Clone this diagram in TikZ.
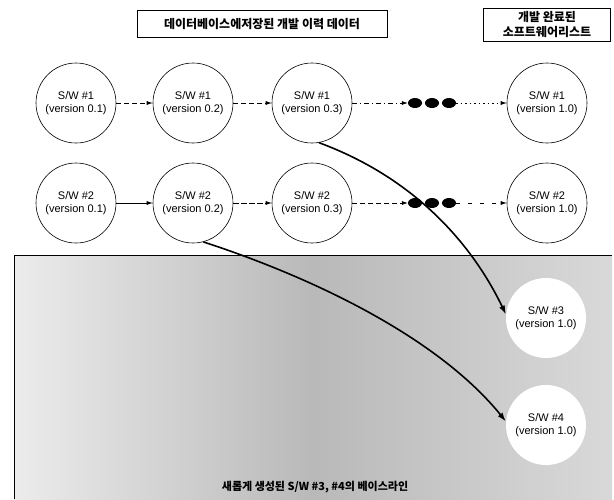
\documentclass[tikz,border=0pt]{standalone}
\usepackage{fontspec}
\setmainfont{Liberation Sans}
\newfontfamily\kr{Noto Sans CJK KR}
\usetikzlibrary{arrows.meta,shapes.geometric}
\begin{document}
\begin{tikzpicture}[x=1pt,y=-1pt,
  sw/.style={circle,draw,line width=0.6pt,minimum size=80pt,inner sep=0pt,align=center,font=\fontsize{11}{13}\selectfont},
  swnew/.style={circle,fill=white,minimum size=80pt,inner sep=0pt,align=center,font=\fontsize{11}{13}\selectfont},
  arr/.style={-{Latex[length=6pt,width=4pt]},line width=0.6pt},
  big/.style={-{Latex[length=9pt,width=6pt]},line width=1.6pt},
  dotmark/.style={ellipse,fill=black,minimum width=14pt,minimum height=10pt,inner sep=0pt},
  titlebox/.style={draw,line width=0.8pt,align=center,font=\kr\bfseries\fontsize{12}{15}\selectfont}]
\useasboundingbox (0,0) rectangle (614,499);
% shaded region
\shade[left color=gray!15,right color=gray!30,middle color=gray!55,shading angle=90] (14,255) rectangle (612,499);
\draw[line width=0.8pt] (14,499) -- (14,255) -- (612,255);
% titles
\node[titlebox,minimum width=250pt,minimum height=27pt] (t1) at (262,24) {데이터베이스에저장된 개발 이력 데이터};
\node[titlebox,minimum width=127pt,minimum height=33pt,inner sep=2pt] (t2) at (547,25) {개발 완료된\\소프트웨어리스트};
% row 1
\node[sw] (a1) at (76,103) {S/W \#1\\(version 0.1)};
\node[sw] (a2) at (193,103) {S/W \#1\\(version 0.2)};
\node[sw] (a3) at (312,103) {S/W \#1\\(version 0.3)};
\node[sw] (a4) at (547,103) {S/W \#1\\(version 1.0)};
\node[dotmark] (d1a) at (415,103) {};
\node[dotmark] (d1b) at (432,103) {};
\node[dotmark] (d1c) at (449,103) {};
% row 2
\node[sw] (b1) at (76,203) {S/W \#2\\(version 0.1)};
\node[sw] (b2) at (193,203) {S/W \#2\\(version 0.2)};
\node[sw] (b3) at (312,203) {S/W \#2\\(version 0.3)};
\node[sw] (b4) at (547,203) {S/W \#2\\(version 1.0)};
\node[dotmark] (d2a) at (415,203) {};
\node[dotmark] (d2b) at (432,203) {};
\node[dotmark] (d2c) at (449,203) {};
% new
\node[swnew] (c3) at (546,318) {S/W \#3\\(version 1.0)};
\node[swnew] (c4) at (546,425) {S/W \#4\\(version 1.0)};
% arrows row 1
\draw[arr,dash pattern=on 5pt off 3pt] (a1) -- (a2);
\draw[arr,dash pattern=on 5pt off 3pt] (a2) -- (a3);
\draw[arr,dash pattern=on 5pt off 3pt on 1pt off 3pt] (a3) -- (d1a);
\draw[arr,dash pattern=on 1.5pt off 3pt] (d1c) -- (a4);
% arrows row 2
\draw[arr] (b1) -- (b2);
\draw[arr,dash pattern=on 6pt off 2pt] (b2) -- (b3);
\draw[arr,dash pattern=on 5pt off 3pt] (b3) -- (d2a);
\draw[arr,dash pattern=on 4pt off 8pt] (d2c) -- (b4);
% curved arrows
\draw[big] (a3.-80) .. controls (420,180) and (475,250) .. (c3.175);
\draw[big] (b2.-75) .. controls (320,280) and (440,340) .. (c4.175);
% caption
\node[font=\kr\bfseries\fontsize{11}{13}\selectfont] (cap) at (315,487) {새롭게 생성된 S/W \#3, \#4의 베이스라인};
\end{tikzpicture}
\end{document}
